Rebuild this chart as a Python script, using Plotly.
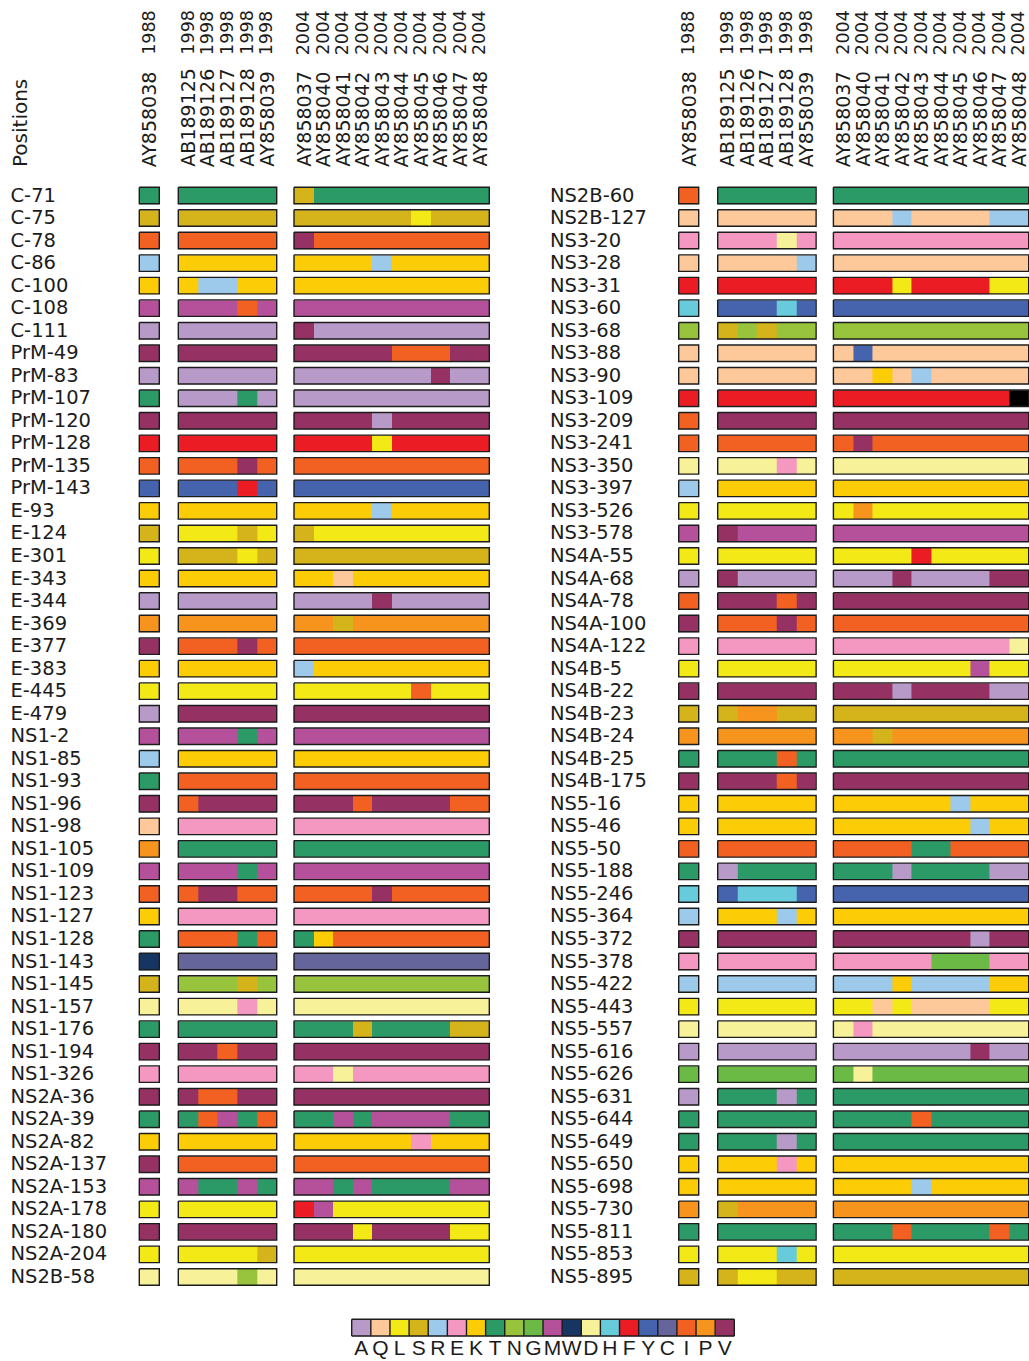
import plotly.graph_objects as go

# ---- residue alphabet and colours ----
amino_acids = list("AQLSREKTNGMWDHFYCIPV")
aa_colors = ["#b89ac8", "#fdc99a", "#f2e916", "#d5b31a", "#9dc9ea",
             "#f498c2", "#fccc06", "#2b9a67", "#97c43c", "#6aba45",
             "#b5519b", "#173563", "#f7f29a", "#68cbdb", "#ec1c24",
             "#4664ad", "#65659b", "#f26122", "#f7941d", "#963163"]
unknown_residue = "X"
unknown_color = "#000000"

# ---- strains (columns) ----
strains_1988 = ["AY858038"]
strains_1998 = ["AB189125", "AB189126", "AB189127", "AB189128", "AY858039"]
strains_2004 = ["AY858037", "AY858040", "AY858041", "AY858042", "AY858043",
                "AY858044", "AY858045", "AY858046", "AY858047", "AY858048"]
years = [1988, 1998, 2004]

# ---- positions and residues: "1988 1998x5 2004x10" ----
positions_left = ["C-71", "C-75", "C-78", "C-86", "C-100", "C-108", "C-111",
                  "PrM-49", "PrM-83", "PrM-107", "PrM-120", "PrM-128", "PrM-135",
                  "PrM-143", "E-93", "E-124", "E-301", "E-343", "E-344", "E-369",
                  "E-377", "E-383", "E-445", "E-479", "NS1-2", "NS1-85", "NS1-93",
                  "NS1-96", "NS1-98", "NS1-105", "NS1-109", "NS1-123", "NS1-127",
                  "NS1-128", "NS1-143", "NS1-145", "NS1-157", "NS1-176", "NS1-194",
                  "NS1-326", "NS2A-36", "NS2A-39", "NS2A-82", "NS2A-137", "NS2A-153",
                  "NS2A-178", "NS2A-180", "NS2A-204", "NS2B-58"]
residues_left = [
    "T TTTTT STTTTTTTTT", "S SSSSS SSSSSSLSSS", "I IIIII VIIIIIIIII",
    "R KKKKK KKKKRKKKKK", "K KRRKK KKKKKKKKKK", "M MMMIM MMMMMMMMMM",
    "A AAAAA VAAAAAAAAA", "V VVVVV VVVVVIIIVV", "A AAAAA AAAAAAAVAA",
    "T AAATA AAAAAAAAAA", "V VVVVV VVVVAVVVVV", "F FFFFF FFFFLFFFFF",
    "I IIIVI IIIIIIIIII", "Y YYYFY YYYYYYYYYY", "K KKKKK KKKKRKKKKK",
    "S LLLSL SLLLLLLLLL", "L SSSLS SSSSSSSSSS", "K KKKKK KKQKKKKKKK",
    "A AAAAA AAAAVAAAAA", "P PPPPP PPSPPPPPPP", "V IIIVI IIIIIIIIII",
    "K KKKKK RKKKKKKKKK", "L LLLLL LLLLLLILLL", "A VVVVV VVVVVVVVVV",
    "M MMMTM MMMMMMMMMM", "R KKKKK KKKKKKKKKK", "T IIIII IIIIIIIIII",
    "V IVVVV VVVIVVVVII", "Q EEEEE EEEEEEEEEE", "P TTTTT TTTTTTTTTT",
    "M MMMTM MMMMMMMMMM", "I IVVII IIIIVIIIII", "K EEEEE EEEEEEEEEE",
    "T IIITI TKIIIIIIII", "W CCCCC CCCCCCCCCC", "S NNNSN NNNNNNNNNN",
    "D DDDED DDDDDDDDDD", "T TTTTT TTTSTTTTSS", "V VVIVV VVVVVVVVVV",
    "E EEEEE EEDEEEEEEE", "V VIIVV VVVVVVVVVV", "T TIMTI TTMTMMMMTT",
    "K KKKKK KKKKKKEKKK", "V IIIII IIIIIIIIII", "M MTTMT MMTMTTTTMM",
    "L LLLLL FMLLLLLLLL", "V VVVVV VVVLVVVVLL", "L LLLLS LLLLLLLLLL",
    "D DDDND DDDDDDDDDD"]

positions_right = ["NS2B-60", "NS2B-127", "NS3-20", "NS3-28", "NS3-31", "NS3-60",
                   "NS3-68", "NS3-88", "NS3-90", "NS3-109", "NS3-209", "NS3-241",
                   "NS3-350", "NS3-397", "NS3-526", "NS3-578", "NS4A-55", "NS4A-68",
                   "NS4A-78", "NS4A-100", "NS4A-122", "NS4B-5", "NS4B-22", "NS4B-23",
                   "NS4B-24", "NS4B-25", "NS4B-175", "NS5-16", "NS5-46", "NS5-50",
                   "NS5-188", "NS5-246", "NS5-364", "NS5-372", "NS5-378", "NS5-422",
                   "NS5-443", "NS5-557", "NS5-616", "NS5-626", "NS5-631", "NS5-644",
                   "NS5-649", "NS5-650", "NS5-698", "NS5-730", "NS5-811", "NS5-853",
                   "NS5-895"]
residues_right = [
    "I TTTTT TTTTTTTTTT", "Q QQQQQ QQQRQQQQRR", "E EEEDE EEEEEEEEEE",
    "Q QQQQR QQQQQQQQQQ", "F FFFFF FFFLFFFFLL", "H YYYHY YYYYYYYYYY",
    "N SNSNN NNNNNNNNNN", "Q QQQQQ QYQQQQQQQQ", "Q QQQQQ QQKQRQQQQQ",
    "F FFFFF FFFFFFFFFX", "I VVVVV VVVVVVVVVV", "I IIIII IVIIIIIIII",
    "D DDDED DDDDDDDDDD", "R KKKKK KKKKKKKKKK", "L LLLLL LPLLLLLLLL",
    "M VMMMM MMMMMMMMMM", "L LLLLL LLLLFLLLLL", "A VAAAA AAAVAAAAVV",
    "I VVVIV VVVVVVVVVV", "V IIIVI IIIIIIIIII", "E EEEEE EEEEEEEEED",
    "L LLLLL LLLLLLLMLL", "V VVVVV VVVAVVVVAA", "S SPPSS SSSSSSSSSS",
    "P PPPPP PPSPPPPPPP", "T TTTIT TTTTTTTTTT", "V VVVIV VVVVVVVVVV",
    "K KKKKK KKKKKKRKKK", "K KKKKK KKKKKKKRKK", "I IIIII IIIITTIIII",
    "T ATTTT TTTATTTTAA", "H YHHHY YYYYYYYYYY", "R KKKRK KKKKKKKKKK",
    "V VVVVV VVVVVVVAVV", "E EEEEE EEEEEGGGEE", "R RRRRR RRRKRRRRKK",
    "L LLLLL LLQLQQQQLL", "D DDDDD DEDDDDDDDD", "A AAAAA AAAAAAAVAA",
    "G GGGGG GDGGGGGGGG", "A TTTAT TTTTTTTTTT", "T TTTTT TTTTITTTTT",
    "T TTTAT TTTTTTTTTT", "K KKKEK KKKKKKKKKK", "K KKKKK KKKKRKKKKK",
    "P SPPPP PPPPPPPPPP", "T TTTTT TTTITTTTIT", "L LLLHL LLLLLLLLLL",
    "S SLLSS SSSSSSSSSS"]

# ---- page geometry (pixel units on the x axis, row units on the y axis) ----
W, H = 1029, 1361
ROW0_PX, ROW_PX = 195.5, 22.53
CELL_H_PX = 16.5
PANEL_SHIFT = [0.0, 539.4]
BLOCK_LEFT = [139.3, 178.3, 294.0]
BLOCK_CELL_W = [20.0, 19.68, 19.53]
LABEL_X = 10.5
LABEL_DY = 0.05
INK = "#1c1c1c"
FONT = "DejaVu Sans"

codes = amino_acids + [unknown_residue]
palette = aa_colors + [unknown_color]
n_codes = len(codes)
colorscale = []
for k, c in enumerate(palette):
    colorscale += [[k / n_codes, c], [(k + 1) / n_codes, c]]


def row_y(px):
    return (px - ROW0_PX) / ROW_PX


def paper_y(px):
    return 1 - px / H


half_h = CELL_H_PX / 2 / ROW_PX
fig = go.Figure()

block_strains = [strains_1988, strains_1998, strains_2004]

for panel, (positions, residues) in enumerate([(positions_left, residues_left),
                                               (positions_right, residues_right)]):
    n_rows = len(positions)
    groups = [r.split() for r in residues]
    ox, oy = [], []
    for b in range(3):
        x0 = PANEL_SHIFT[panel] + BLOCK_LEFT[b]
        w = BLOCK_CELL_W[b]
        n = len(block_strains[b])
        x_edges = [x0 + k * w for k in range(n + 1)]
        y_edges = [i - 0.5 for i in range(n_rows + 1)]
        z = [[codes.index(ch) for ch in g[b]] for g in groups]
        fig.add_trace(go.Heatmap(
            x=x_edges, y=y_edges, z=z, colorscale=colorscale,
            zmin=-0.5, zmax=n_codes - 0.5, showscale=False,
            xgap=0, ygap=ROW_PX - CELL_H_PX, hoverinfo="skip"))
        x1 = x_edges[-1]
        for i in range(n_rows):
            y0, y1 = i - half_h, i + half_h
            ox += [x0, x1, x1, x0, x0, None]
            oy += [y0, y0, y1, y1, y0, None]
    fig.add_trace(go.Scatter(x=ox, y=oy, mode="lines",
                             line=dict(color=INK, width=1.4),
                             hoverinfo="skip", showlegend=False))
    # position labels
    fig.add_trace(go.Scatter(
        x=[PANEL_SHIFT[panel] + LABEL_X] * n_rows,
        y=[i + LABEL_DY for i in range(n_rows)],
        mode="text", text=positions, textposition="middle right",
        textfont=dict(family=FONT, size=19.5, color=INK),
        hoverinfo="skip", showlegend=False))
    # column headers (strain id + year)
    for b in range(3):
        x0 = PANEL_SHIFT[panel] + BLOCK_LEFT[b]
        w = BLOCK_CELL_W[b]
        for k, s in enumerate(block_strains[b]):
            xc = x0 + (k + 0.5) * w
            fig.add_annotation(x=xc, y=paper_y(169), xref="x", yref="paper",
                               text=s, textangle=-90, showarrow=False,
                               xanchor="center", yanchor="bottom",
                               font=dict(family=FONT, size=19, color=INK))
            fig.add_annotation(x=xc, y=paper_y(8), xref="x", yref="paper",
                               text=str(years[b]), textangle=-90, showarrow=False,
                               xanchor="center", yanchor="top",
                               font=dict(family=FONT, size=17.5, color=INK))

fig.add_annotation(x=20, y=paper_y(169), xref="x", yref="paper", text="Positions",
                   textangle=-90, showarrow=False, xanchor="center", yanchor="bottom",
                   font=dict(family=FONT, size=20, color=INK))

# ---- colour key ----
KEY_LEFT, KEY_W = 351.7, 19.13
KEY_Y_PX, KEY_H_PX, KEY_TEXT_PX = 1327.6, 16.7, 1349.5
ky = row_y(KEY_Y_PX)
kh = KEY_H_PX / 2 / ROW_PX
kx_edges = [KEY_LEFT + k * KEY_W for k in range(len(amino_acids) + 1)]
fig.add_trace(go.Heatmap(
    x=kx_edges, y=[ky - kh, ky + kh], z=[list(range(len(amino_acids)))],
    colorscale=colorscale, zmin=-0.5, zmax=n_codes - 0.5, showscale=False,
    hoverinfo="skip"))
kx, kyl = [], []
for xe in kx_edges:
    kx += [xe, xe, None]
    kyl += [ky - kh, ky + kh, None]
kx += [kx_edges[0], kx_edges[-1], None, kx_edges[0], kx_edges[-1], None]
kyl += [ky - kh, ky - kh, None, ky + kh, ky + kh, None]
fig.add_trace(go.Scatter(x=kx, y=kyl, mode="lines", line=dict(color=INK, width=1.4),
                         hoverinfo="skip", showlegend=False))
fig.add_trace(go.Scatter(
    x=[(kx_edges[k] + kx_edges[k + 1]) / 2 for k in range(len(amino_acids))],
    y=[row_y(KEY_TEXT_PX)] * len(amino_acids), mode="text", text=amino_acids,
    textposition="middle center",
    textfont=dict(family="Liberation Sans", size=21, color=INK),
    hoverinfo="skip", showlegend=False))

fig.update_layout(
    width=W, height=H, margin=dict(l=0, r=0, t=0, b=0),
    paper_bgcolor="white", plot_bgcolor="white", showlegend=False,
    xaxis=dict(range=[0, W], visible=False, fixedrange=True),
    yaxis=dict(range=[row_y(H), row_y(0)], visible=False, fixedrange=True),
)

fig.write_html("out.html")
